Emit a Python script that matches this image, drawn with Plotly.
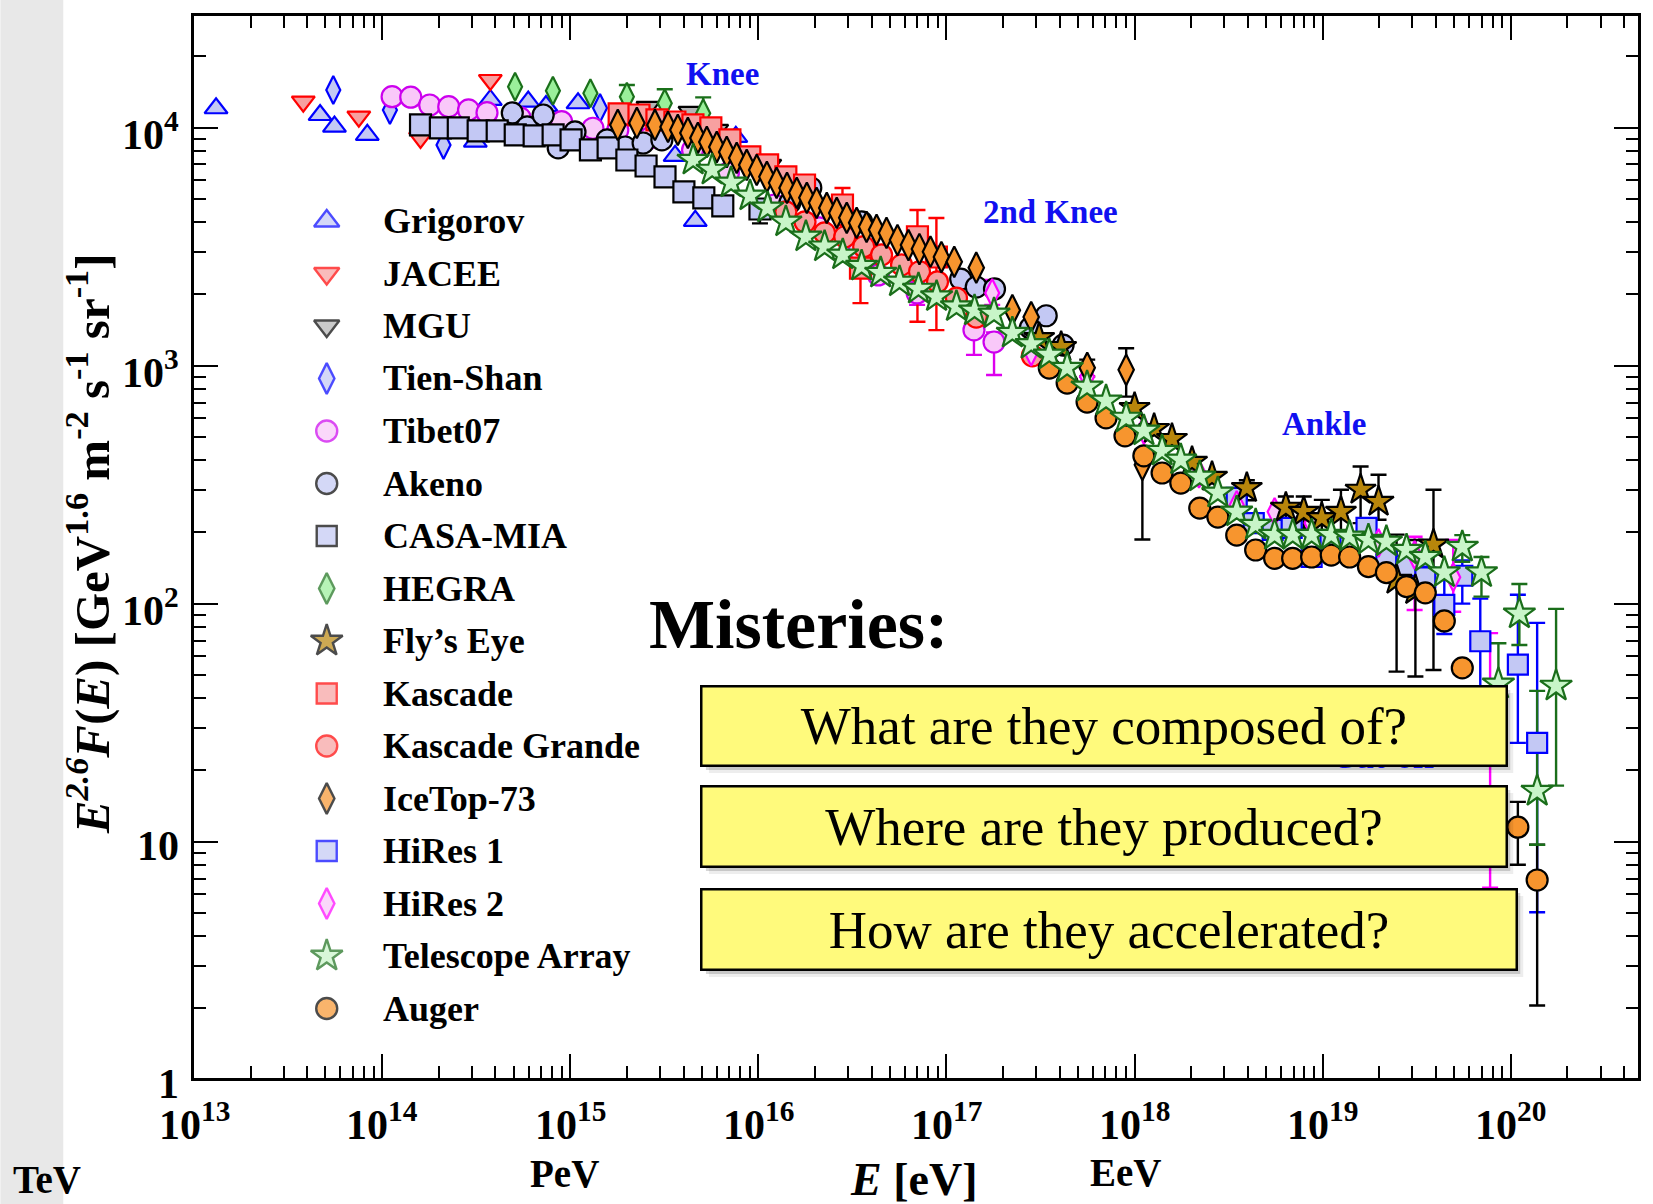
import math
import plotly.graph_objects as go

# ---------------- data: E [eV], E^2.6 F(E) [GeV^1.6 m^-2 s^-1 sr^-1] ----------------
grig_E = [1.31e13, 4.68e13, 5.58e13, 8.34e13, 3.13e14, 3.76e14, 5.98e14, 7.43e14, 1.10e15, 3.61e15, 4.62e15, 7.59e15]
grig_F = [12060, 11300, 10100, 9320, 8730, 13070, 12860, 12330, 12660, 7610, 4060, 9140]

jacee_E = [3.81e13, 7.52e13, 1.60e14, 3.76e14]
jacee_F = [12860, 11120, 9050, 15850]

mgu_E = [2.59e15, 4.33e15, 6.01e15, 1.15e16]
mgu_F = [12220, 11640, 9780, 6970]

tien_E = [5.50e13, 1.10e14, 2.12e14, 1.44e15]
tien_F = [14390, 11870, 8460, 12100]

tibet_E = [1.13e14, 1.42e14, 1.79e14, 2.26e14, 2.88e14, 3.61e14, 5.42e14, 9.0e14, 1.32e15, 1.79e15,
           2.64e15, 4.47e15, 6.93e15, 1.22e16, 2.11e16, 3.44e16, 4.34e16, 6.98e16, 1.40e17, 1.79e17]
tibet_F = [13490, 13420, 12450, 12250, 11870, 11560, 10990, 10600, 9940, 9780,
           9050, 8060, 6450, 4730, 3790, 3065, 2405, 2020, 1413, 1257]
tibet_hi = [None] * 17 + [2250, 1560, 1380]
tibet_lo = [None] * 17 + [1800, 1110, 914]

akeno_E = [4.92e14, 5.90e14, 7.18e14, 8.63e14, 1.06e15, 1.57e15, 1.96e15, 2.44e15, 3.07e15,
           1.47e16, 1.90e16, 3.54e16, 1.19e17, 1.44e17, 1.80e17, 2.79e17, 3.39e17, 4.17e17]
akeno_F = [11530, 10070, 11300, 8220, 9590, 8880, 8290, 8620, 8880,
           4830, 5590, 4020, 2310, 2140, 2100, 1440, 1620, 1220]

casa_E = [1.60e14, 2.04e14, 2.54e14, 3.24e14, 4.09e14, 5.10e14, 6.43e14, 8.11e14, 1.01e15,
          1.28e15, 1.59e15, 2.00e15, 2.53e15, 3.19e15, 4.02e15, 5.13e15, 6.47e15, 1.02e16]
casa_F = [10260, 9970, 9970, 9690, 9690, 9320, 9230, 9320, 8880,
          8060, 8220, 7310, 6900, 6210, 5370, 5070, 4690, 4550]
casa_hi = [None] * 17 + [4890]
casa_lo = [None] * 17 + [3960]

hegra_E = [5.09e14, 8.09e14, 1.28e15, 2.00e15, 3.18e15, 5.09e15]
hegra_F = [14860, 14290, 13950, 13490, 12660, 11480]
hegra_hi = [None, None, None, 15100, 14500, 13400]
hegra_lo = [None, None, None, 12000, 11200, 10000]

fly_E = [3.11e17, 4.07e17, 1.00e18, 1.27e18, 1.58e18, 2.02e18, 2.58e18, 3.95e18, 6.37e18,
         7.93e18, 9.89e18, 1.25e19, 1.59e19, 1.98e19, 2.47e19, 3.11e19, 3.88e19]
fly_F = [1306, 1198, 664, 542, 492, 394, 341, 306, 253, 243, 229, 243, 301, 268, 126, 114, 177]
fly_hi = [None] * 7 + [330, 282, 282, 273, 301, 377, 348, 195, 185, 301]
fly_lo = [None] * 7 + [272, 225, 208, 193, 191, 218, 225, 51.8, 49.4, 52.6]

kas_E = [1.82e15, 2.32e15, 2.89e15, 3.60e15, 4.49e15, 5.59e15, 7.06e15, 9.01e15, 1.12e16,
         1.40e16, 1.76e16, 2.80e16, 3.49e16, 7.01e16, 8.84e16]
kas_F = [11420, 11300, 10770, 10560, 10260, 9970, 8880, 7530, 6970, 6210, 5740, 4730, 2570, 3480, 2860]
kas_hi = [None] * 11 + [5580, 2570, 4510, 4170]
kas_lo = [None] * 11 + [3900, 1830, 1530, 1410]

kg_E = [1.40e16, 1.77e16, 2.25e16, 2.88e16, 3.63e16, 4.52e16, 5.77e16, 7.19e16, 8.96e16, 1.13e17, 1.44e17, 2.86e17]
kg_F = [4430, 4020, 3610, 3480, 3160, 2920, 2650, 2480, 2250, 1920, 1600, 1100]

ice_E = [1.79e15, 2.26e15, 2.82e15, 3.31e15, 3.73e15, 4.22e15, 4.77e15, 5.32e15, 6.01e15, 6.79e15,
         7.67e15, 8.67e15, 9.80e15, 1.11e16, 1.25e16, 1.42e16, 1.60e16, 1.81e16, 2.04e16, 2.31e16,
         2.61e16, 2.95e16, 3.33e16, 3.76e16, 4.25e16, 4.80e16, 5.49e16, 6.28e16, 7.18e16, 8.22e16,
         9.40e16, 1.10e17, 1.44e17, 2.24e17, 2.82e17, 5.60e17, 9.02e17, 1.10e18]
ice_F = [10260, 10460, 10260, 10070, 9780, 9500, 9050, 8710, 8290, 7900,
         7460, 6970, 6640, 6210, 5860, 5580, 5320, 5070, 4830, 4600,
         4380, 4180, 3980, 3830, 3720, 3610, 3370, 3210, 3090, 3010,
         2860, 2730, 2580, 1710, 1600, 979, 960, 383]
ice_hi = [None] * 35 + [1060, 1183, 443]
ice_lo = [None] * 35 + [900, 741, 186]

hr1_E = [3.49e18, 4.30e18, 5.42e18, 6.84e18, 8.73e18, 1.10e19, 1.71e19, 2.18e19, 2.79e19,
         3.51e19, 4.43e19, 5.52e19, 6.88e19, 1.09e20, 1.38e20]
hr1_F = [278, 218, 204, 208, 157, 177, 208, 157, 144, 129, 98.8, 131, 69.5, 55.4, 26.0]
hr1_hi = [None] * 9 + [143, 126, 152, 105, 109, 83]
hr1_lo = [None] * 9 + [105, 74.6, 100, 25, 26.0, 5.05]

hr2_E = [1.75e17, 2.82e17, 5.59e17, 1.12e18, 2.20e18, 3.49e18, 5.55e18, 8.73e18, 1.98e19, 3.08e19, 4.94e19, 7.76e19]
hr2_F = [2020, 1143, 898, 537, 351, 260, 243, 218, 180, 160, 129, 39.4]
hr2_hi = [2290] + [None] * 8 + [191, 185, 75.2]
hr2_lo = [1800] + [None] * 8 + [94, 92.5, 6.4]

ta_E = [4.50e15, 5.68e15, 7.16e15, 9.03e15, 1.12e16, 1.40e16, 1.79e16, 2.25e16, 2.81e16, 3.54e16,
        4.47e16, 5.63e16, 7.10e16, 8.86e16, 1.13e17, 1.41e17, 1.79e17, 2.24e17, 2.82e17, 3.52e17,
        4.38e17, 5.59e17, 7.05e17, 9.02e17, 1.12e18, 1.40e18, 1.76e18, 2.22e18, 2.77e18, 3.49e18,
        4.40e18, 5.55e18, 6.93e18, 8.73e18, 1.11e19, 1.39e19, 1.75e19, 2.18e19, 2.79e19, 3.51e19,
        4.43e19, 5.52e19, 6.98e19, 8.59e19, 1.11e20, 1.38e20, 1.74e20]
ta_F = [7310, 6640, 5860, 5170, 4600, 4020, 3480, 3160, 2920, 2620,
        2450, 2250, 2100, 1950, 1770, 1700, 1650, 1370, 1230, 1110,
        977, 814, 711, 603, 532, 438, 402, 341, 292, 243,
        214, 194, 194, 194, 194, 191, 185, 182, 168, 157,
        135, 173, 135, 46.0, 90.6, 16.3, 45.1]
ta_hi = [None] * 41 + [194, 157, 68.2, 121, 43.0, 95.1]
ta_lo = [None] * 41 + [150, 107, 32.4, 67, 9.7, 17.2]

aug_E = [3.52e17, 4.38e17, 5.59e17, 7.05e17, 8.89e17, 1.12e18, 1.40e18, 1.76e18, 2.22e18, 2.77e18,
         3.49e18, 4.40e18, 5.55e18, 6.92e18, 8.73e18, 1.11e19, 1.39e19, 1.75e19, 2.18e19, 2.79e19,
         3.51e19, 4.43e19, 5.52e19, 1.09e20, 1.38e20]
aug_F = [977, 845, 703, 603, 507, 418, 354, 321, 252, 231,
         194, 168, 155, 155, 157, 160, 157, 143, 135, 118,
         111, 84.6, 53.7, 11.5, 6.9]
aug_hi = [None] * 23 + [14.7, 9.7]
aug_lo = [None] * 23 + [8.0, 2.05]

y_tick_vals = [1e4, 1e3, 1e2, 10, 1]
y_tick_text = ["10<sup>4</sup>", "10<sup>3</sup>", "10<sup>2</sup>", "10", "1"]
x_tick_exps = [13, 14, 15, 16, 17, 18, 19, 20]

# ---------------- styling ----------------
FONT = "Liberation Serif, Times New Roman, serif"
LBLUE = "#c3c8f4"
LRED = "#f7a0a0"
LPINK = "#f9c8f9"
LGREEN = "#9af09a"
PALEGREEN = "#c8f5c8"
ORANGE = "#f7952e"
GOLD = "#b8860b"
GREY = "#b4b4b4"

# name, E, F, hi, lo, symbol, size, fill, edge, error colour, legend size
series = [
    ("Grigorov", grig_E, grig_F, None, None, "triangle-up", 20, LBLUE, "#0000ff", None, 22),
    ("JACEE", jacee_E, jacee_F, None, None, "triangle-down", 20, LRED, "#ff0000", None, 22),
    ("MGU", mgu_E, mgu_F, None, None, "triangle-down", 20, GREY, "#000000", None, 22),
    ("Tien-Shan", tien_E, tien_F, None, None, "diamond-tall", 20, LBLUE, "#0000ff", None, 22),
    ("Tibet07", tibet_E, tibet_F, tibet_hi, tibet_lo, "circle", 21, LPINK, "#cc00ee", "#dd00ee", 21),
    ("Akeno", akeno_E, akeno_F, None, None, "circle", 21, LBLUE, "#000000", None, 21),
    ("CASA-MIA", casa_E, casa_F, casa_hi, casa_lo, "square", 21, LBLUE, "#000000", "#000000", 20),
    ("HEGRA", hegra_E, hegra_F, hegra_hi, hegra_lo, "diamond-tall", 20, LGREEN, "#1a701a", "#1a701a", 22),
    ("Fly’s Eye", fly_E, fly_F, fly_hi, fly_lo, "star", 23, GOLD, "#000000", "#000000", 24),
    ("Kascade", kas_E, kas_F, kas_hi, kas_lo, "square", 21, LRED, "#ff0000", "#ff0000", 20),
    ("Kascade Grande", kg_E, kg_F, None, None, "circle", 21, LRED, "#ff0000", None, 21),
    ("IceTop-73", ice_E, ice_F, ice_hi, ice_lo, "diamond-tall", 22, ORANGE, "#000000", "#000000", 22),
    ("HiRes 1", hr1_E, hr1_F, hr1_hi, hr1_lo, "square", 20, LBLUE, "#0000ff", "#0000ff", 20),
    ("HiRes 2", hr2_E, hr2_F, hr2_hi, hr2_lo, "diamond-tall", 20, LPINK, "#ff00ff", "#ff00ff", 22),
    ("Telescope Array", ta_E, ta_F, ta_hi, ta_lo, "star", 24, PALEGREEN, "#1a6e1a", "#1a6e1a", 24),
    ("Auger", aug_E, aug_F, aug_hi, aug_lo, "circle", 21, ORANGE, "#000000", "#000000", 21),
]

# drawing order of the data markers (legend order is kept separately)
draw_order = ["Grigorov", "JACEE", "MGU", "Tien-Shan", "Tibet07", "Akeno", "CASA-MIA", "HEGRA",
              "Kascade", "Kascade Grande", "HiRes 1", "HiRes 2", "Fly’s Eye", "IceTop-73",
              "Auger", "Telescope Array"]

# ---------------- pixel frame of the plot area ----------------
W, H = 1653, 1204
L, R, T, B = 194, 1641, 16, 1078
Y_RANGE = [0.007, 4.469]


def px(x):
    return (x - L) / (R - L)


def py(y):
    return (B - y) / (B - T)


def py_val(v):
    """paper y of a data value on the log y axis"""
    return (math.log10(v) - Y_RANGE[0]) / (Y_RANGE[1] - Y_RANGE[0])


fig = go.Figure()
by_name = {s[0]: s for s in series}

# error bars first, so every marker sits on top of them
for name in draw_order:
    nm, E, F, hi, lo, sym, size, fill, edge, ecol, lsize = by_name[name]
    if hi is None:
        continue
    xs, ys, plus, minus = [], [], [], []
    for e, f, h, l in zip(E, F, hi, lo):
        if h is None and l is None:
            continue
        xs.append(e)
        ys.append(f)
        plus.append(max(h - f, 0) if h is not None else 0)
        minus.append(max(f - l, 0) if l is not None else 0)
    fig.add_trace(go.Scatter(
        x=xs, y=ys, mode="markers", marker=dict(size=2, opacity=0),
        error_y=dict(type="data", symmetric=False, array=plus, arrayminus=minus,
                     color=ecol, thickness=2.4, width=8),
        hoverinfo="skip", showlegend=False))

for name in draw_order:
    nm, E, F, hi, lo, sym, size, fill, edge, ecol, lsize = by_name[name]
    fig.add_trace(go.Scatter(
        x=E, y=F, mode="markers", name=nm,
        marker=dict(symbol=sym, size=size, color=fill, line=dict(color=edge, width=2.2)),
        showlegend=False))

# hand-drawn legend keys on a pixel-scaled overlay axis
leg_x, leg_y0, leg_dy = 327, 221, 52.5
fig.add_trace(go.Scatter(
    x=[leg_x] * len(series),
    y=[leg_y0 + i * leg_dy for i in range(len(series))],
    xaxis="x2", yaxis="y2", mode="markers", hoverinfo="skip", showlegend=False,
    marker=dict(symbol=[s[5] for s in series], size=[s[10] for s in series],
                color=[s[7] for s in series],
                line=dict(color=[s[8] for s in series], width=2.4))))


def text_ann(x, y, text, size, color="black", xanchor="center", yanchor="middle", **kw):
    d = dict(x=x, y=y, xref="paper", yref="paper", text=text, showarrow=False,
             xanchor=xanchor, yanchor=yanchor, font=dict(family=FONT, size=size, color=color))
    d.update(kw)
    return d


ann = []
for i, s in enumerate(series):
    ann.append(text_ann(px(381), py(leg_y0 + i * leg_dy), "<b>%s</b>" % s[0], 36, xanchor="left"))

# tick labels
for v, t in zip(y_tick_vals, y_tick_text):
    ann.append(text_ann(px(181), py_val(v), "<b>%s</b>" % t, 42, xanchor="right", yshift=-4))
for k in x_tick_exps:
    ann.append(dict(x=k, y=py(1121), xref="x", yref="paper", text="<b>10<sup>%d</sup></b>" % k,
                    showarrow=False, xanchor="center", yanchor="middle",
                    font=dict(family=FONT, size=42, color="black")))

# axis titles and energy scale words
ann.append(text_ann(px(88), py(516 * 1204 / 1142), "<b><i>E</i><sup><i>2.6</i></sup><i>F</i>(<i>E</i>) [GeV<sup>1.6</sup> m<sup>-2</sup> s<sup>-1</sup> sr<sup>-1</sup>]</b>",
                    49, textangle=-90))
ann.append(text_ann(px(915), py(1180), "<b><i>E</i> [eV]</b>", 46))
for word, xx, yy in [("TeV", 47, 1179), ("PeV", 565, 1173), ("EeV", 1128, 1172)]:
    ann.append(text_ann(px(xx), py(yy), "<b>%s</b>" % word, 39))

# spectral features
for word, xx, yy in [("Knee", 724, 74), ("2nd Knee", 1052, 212), ("Ankle", 1326, 424), ("Cut-off", 1386, 757)]:
    ann.append(text_ann(px(xx), py(yy), "<b>%s</b>" % word, 33, color="#1010f0"))

# question boxes: soft drop shadow (shapes) under the yellow boxes (annotations)
boxes = [("What are they composed of?", 703, 1509, 686, 766),
         ("Where are they produced?", 703, 1509, 786, 867),
         ("How are they accelerated?", 703, 1519, 889, 970)]
shapes = [dict(type="rect", xref="paper", yref="paper", x0=px(0), x1=px(63), y0=py(H), y1=py(0),
               fillcolor="#e8e8e8", line=dict(width=0), layer="below")]
for text, x0, x1, y0, y1 in boxes:
    for off, col in [(7, "rgba(0,0,0,0.07)"), (4, "rgba(0,0,0,0.16)")]:
        shapes.append(dict(type="rect", xref="paper", yref="paper", x0=px(x0 + off), x1=px(x1 + off),
                           y0=py(y1 + off), y1=py(y0 + off), fillcolor=col, line=dict(width=0),
                           layer="above"))
    ann.append(text_ann(px((x0 + x1) / 2), py((y0 + y1) / 2), text, 53,
                        width=x1 - x0 - 3, height=y1 - y0 - 3,
                        bgcolor="#fffa7c", bordercolor="black", borderwidth=2.5, borderpad=0,
                        align="center", valign="middle"))

ann.append(text_ann(px(800), py(624), "<b>Misteries:</b>", 70))

axis_common = dict(type="log", showline=True, linecolor="black", linewidth=2.5, mirror="allticks",
                   ticks="inside", ticklen=24, tickwidth=2, tickcolor="black", dtick=1,
                   showticklabels=False, showgrid=False, zeroline=False,
                   minor=dict(ticks="inside", ticklen=12, tickwidth=2, tickcolor="black",
                              dtick="D1", showgrid=False))

fig.update_layout(
    width=W, height=H,
    margin=dict(l=L, r=W - R, t=T, b=H - B),
    paper_bgcolor="white", plot_bgcolor="white",
    showlegend=False,
    font=dict(family=FONT, color="black"),
    xaxis=dict(range=[13.0, 20.676], **axis_common),
    yaxis=dict(range=Y_RANGE, **axis_common),
    xaxis2=dict(overlaying="x", range=[L, R], visible=False),
    yaxis2=dict(overlaying="y", range=[B, T], visible=False),
    annotations=ann,
    shapes=shapes,
)

fig.write_html("out.html")
